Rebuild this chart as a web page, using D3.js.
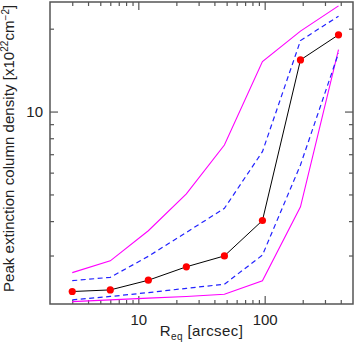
<!DOCTYPE html>
<html>
<head>
<meta charset="utf-8">
<script src="https://cdn.jsdelivr.net/npm/d3@7"></script>
<style>
html,body{margin:0;padding:0;background:#fff;}
svg{display:block;}
text{font-family:"Liberation Sans",Arial,Helvetica,sans-serif;}
</style>
</head>
<body>
<svg id="chart" width="354" height="342"></svg>
<script>
// Data (R_eq in arcsec, column density in 1e22 cm^-2)
const xVals   = [3, 6, 12, 24, 48, 96, 192, 384];
const median  = [2.22, 2.25, 2.44, 2.73, 2.99, 4.02, 15.4, 19.0];
const upper68 = [2.43, 2.50, 2.98, 3.64, 4.45, 7.15, 18.1, 22.2];
const lower68 = [2.07, 2.13, 2.20, 2.28, 2.36, 3.01, 6.40, 16.3];
const upper95 = [2.60, 2.87, 3.69, 5.02, 7.56, 15.2, 19.6, 24.2];
const lower95 = [2.04, 2.07, 2.10, 2.13, 2.17, 2.43, 4.51, 16.8];
const xMajor = [10, 100];
const xMinor = [3,4,5,6,7,8,9,20,30,40,50,60,70,80,90,200,300,400];
const yMajor = [10];
const yMinor = [3,4,5,6,7,8,9,20];

const svg = d3.select("#chart");
const L = 50, R = 353, T = 2, B = 304;
const x = d3.scaleLog().domain([2, 500]).range([L, R]);
const y = d3.scaleLog().domain([2, 25]).range([B, T]);

const axisColor = "#555";
const fs = 15;

function styleAxis(g){
  g.select(".domain").remove();
  g.selectAll(".tick line").attr("stroke", axisColor).attr("stroke-width", 1.2);
  g.selectAll(".tick text").attr("fill", "#222").style("font-size", fs + "px")
   .style("font-family", '"Liberation Sans",Arial,sans-serif');
}

// bottom
svg.append("g").attr("transform", `translate(0,${B})`)
  .call(d3.axisBottom(x).tickValues(xMajor).tickSize(-8).tickPadding(10).tickFormat(d3.format("d")))
  .call(styleAxis);
svg.append("g").attr("transform", `translate(0,${B})`)
  .call(d3.axisBottom(x).tickValues(xMinor).tickSize(-4).tickFormat(""))
  .call(styleAxis);
// top
svg.append("g").attr("transform", `translate(0,${T})`)
  .call(d3.axisTop(x).tickValues(xMajor).tickSize(-8).tickFormat(""))
  .call(styleAxis);
svg.append("g").attr("transform", `translate(0,${T})`)
  .call(d3.axisTop(x).tickValues(xMinor).tickSize(-4).tickFormat(""))
  .call(styleAxis);
// left
svg.append("g").attr("transform", `translate(${L},0)`)
  .call(d3.axisLeft(y).tickValues(yMajor).tickSize(-8).tickPadding(7).tickFormat(d3.format("d")))
  .call(styleAxis);
svg.append("g").attr("transform", `translate(${L},0)`)
  .call(d3.axisLeft(y).tickValues(yMinor).tickSize(-4).tickFormat(""))
  .call(styleAxis);
// right
svg.append("g").attr("transform", `translate(${R},0)`)
  .call(d3.axisRight(y).tickValues(yMajor).tickSize(-8).tickFormat(""))
  .call(styleAxis);
svg.append("g").attr("transform", `translate(${R},0)`)
  .call(d3.axisRight(y).tickValues(yMinor).tickSize(-4).tickFormat(""))
  .call(styleAxis);

// frame
svg.append("rect").attr("x", L).attr("y", T).attr("width", R - L).attr("height", B - T)
  .attr("fill", "none").attr("stroke", axisColor).attr("stroke-width", 1.5);

const line = d3.line().x(d => x(d[0])).y(d => y(d[1]));
const zip = arr => xVals.map((v, i) => [v, arr[i]]);

const plot = svg.append("g");
[upper95, lower95].forEach(s => plot.append("path").attr("d", line(zip(s)))
  .attr("fill", "none").attr("stroke", "#ff00ff").attr("stroke-width", 1.1));
[upper68, lower68].forEach(s => plot.append("path").attr("d", line(zip(s)))
  .attr("fill", "none").attr("stroke", "#2222ff").attr("stroke-width", 1.2)
  .attr("stroke-dasharray", "5,3.5"));
plot.append("path").attr("d", line(zip(median)))
  .attr("fill", "none").attr("stroke", "#000").attr("stroke-width", 1);
plot.selectAll("circle").data(zip(median)).join("circle")
  .attr("cx", d => x(d[0])).attr("cy", d => y(d[1])).attr("r", 3.6).attr("fill", "#ff0000");

// x label
const xl = svg.append("text").attr("x", (L + R) / 2).attr("y", 336)
  .attr("text-anchor", "middle").attr("fill", "#222").style("font-size", fs + "px")
  .style("letter-spacing", "0.4px");
xl.append("tspan").text("R");
xl.append("tspan").attr("dy", 4).style("font-size", "10px").text("eq");
xl.append("tspan").attr("dy", -4).text(" [arcsec]");

// y label
const yl = svg.append("text").attr("transform", "translate(14,292) rotate(-90)")
  .attr("text-anchor", "start").attr("fill", "#222").style("font-size", fs + "px")
  .style("letter-spacing", "0.05px");
yl.append("tspan").text("Peak extinction column density [x10");
yl.append("tspan").attr("dy", -6).style("font-size", "10px").text("22");
yl.append("tspan").attr("dy", 6).text("cm");
yl.append("tspan").attr("dy", -5).style("font-size", "10px").text("\u22122");
yl.append("tspan").attr("dy", 5).text("]");
</script>
</body>
</html>
